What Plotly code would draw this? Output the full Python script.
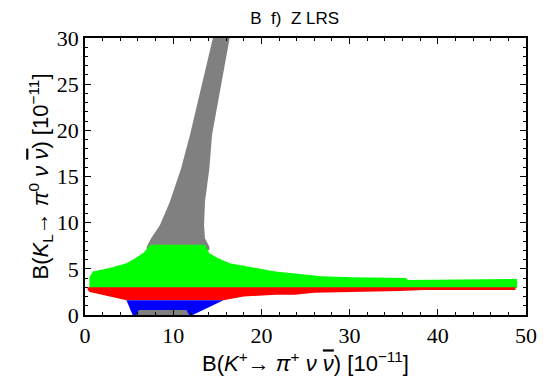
import plotly.graph_objects as go

# Gray allowed region (funnel) - boundary points
gray_x = [7.0, 7.0, 7.5, 8.5, 9.6, 10.9, 11.9, 13.1, 14.5,
          16.4, 15.3, 14.4, 14.1, 13.6, 13.5, 13.6, 14.1, 14.1]
gray_y = [7.0, 7.4, 8.3, 9.75, 12.2, 15.9, 19.5, 24.4, 30.0,
          30.0, 24.4, 19.5, 15.9, 12.2, 9.75, 8.3, 7.4, 7.0]

# Gray visible piece at the bottom
gray_bottom_x = [5.8, 11.8, 11.5, 6.1]
gray_bottom_y = [0.0, 0.0, 0.55, 0.55]

# Green region
green_x = [0.5, 0.5, 0.9, 2.8, 4.7, 5.8, 6.7, 7.4, 13.6, 14.1, 15.0, 16.4,
           19.4, 21.6, 23.8, 26.8, 30.2, 36.4, 36.6, 49.0, 49.0]
green_y = [2.9, 4.1, 4.7, 5.1, 5.6, 6.2, 6.8, 7.6, 7.6, 6.7, 6.2, 5.6,
           5.1, 4.7, 4.5, 4.2, 4.1, 4.0, 3.8, 3.9, 2.9]

# Red region
red_x = [0.3, 48.8, 48.8, 38.5, 35.7, 29.4, 26.0, 23.8, 21.6, 18.0, 15.7,
         4.7, 2.8, 0.55, 0.3]
red_y = [3.0, 3.0, 2.7, 2.7, 2.6, 2.5, 2.4, 2.2, 2.2, 2.0, 1.6,
         1.6, 2.0, 2.5, 2.7]

# Blue region
blue_x = [4.7, 15.7, 12.2, 5.4]
blue_y = [1.6, 1.6, 0.0, 0.0]

x_ticks = [0, 10, 20, 30, 40, 50]
y_ticks = [0, 5, 10, 15, 20, 25, 30]

fig = go.Figure()


def poly(xs, ys, color):
    fig.add_trace(go.Scatter(x=xs + [xs[0]], y=ys + [ys[0]], mode="lines",
                             fill="toself", fillcolor=color,
                             line=dict(width=0, color=color),
                             hoverinfo="skip", showlegend=False))


poly(gray_x, gray_y, "#808080")
poly(green_x, green_y, "#00ff00")
poly(red_x, red_y, "#ff0000")
poly(blue_x, blue_y, "#0000ff")
poly(gray_bottom_x, gray_bottom_y, "#808080")

tickfont = dict(family="Liberation Serif", size=22, color="black")
titlefont = dict(family="Liberation Sans", size=22, color="black")

NB = "\u00a0"
nubar = '<span style="text-decoration:overline">ν</span>'
xtitle = (f"B(<i>K</i><sup>+</sup>→{NB}<i>π</i><sup>+</sup>{NB}<i>ν</i>{NB}<i>{nubar}</i>)"
          f"{NB}[10<sup>−11</sup>]")
ytitle = (f"B(<i>K</i><sub>L</sub>→{NB}<i>π</i><sup>0</sup>{NB}<i>ν</i>{NB}<i>{nubar}</i>)"
          f"{NB}[10<sup>−11</sup>]")

fig.update_layout(
    width=541, height=373,
    margin=dict(l=77, r=13, t=30, b=66),
    paper_bgcolor="white", plot_bgcolor="white",
    title=dict(text=f"B{NB}{NB}f){NB}{NB}Z{NB}LRS", x=0.53, xanchor="center",
               y=1.0, yanchor="top", pad=dict(t=4),
               font=dict(family="Liberation Sans", size=17, color="black")),
    xaxis=dict(range=[0, 50], tickvals=x_ticks, ticktext=[str(v) for v in x_ticks],
               ticks="inside", ticklen=6, tickwidth=1.2, tickcolor="black",
               minor=dict(ticks="inside", dtick=2, ticklen=3, tickcolor="black", tickwidth=1),
               showline=True, linecolor="black", linewidth=1.5, mirror="ticks",
               showgrid=False, zeroline=False, tickfont=tickfont,
               title=dict(text=xtitle, font=titlefont, standoff=2)),
    yaxis=dict(range=[0, 30], tickvals=y_ticks, ticktext=[str(v) for v in y_ticks],
               ticks="inside", ticklen=6, tickwidth=1.2, tickcolor="black",
               minor=dict(ticks="inside", dtick=1, ticklen=3, tickcolor="black", tickwidth=1),
               showline=True, linecolor="black", linewidth=1.5, mirror="ticks",
               showgrid=False, zeroline=False, tickfont=tickfont,
               title=dict(text=ytitle, font=titlefont, standoff=2)),
)

fig.write_html("out.html")
